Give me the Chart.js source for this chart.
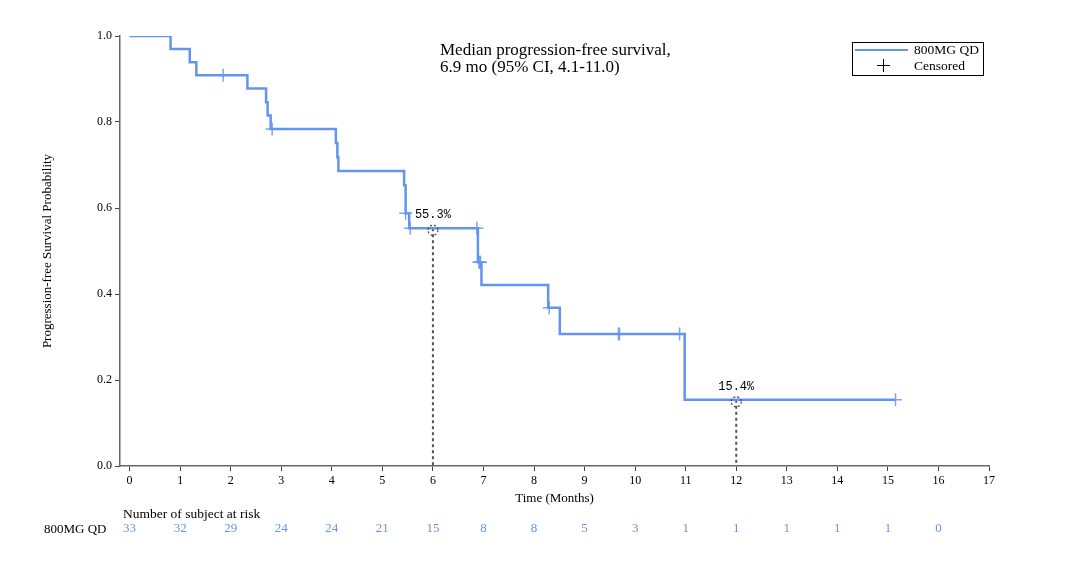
<!DOCTYPE html>
<html>
<head>
<meta charset="utf-8">
<script src="https://cdn.jsdelivr.net/npm/chart.js@4.4.0/dist/chart.umd.min.js"></script>
<style>
  body { margin:0; background:#fff; font-family:"Liberation Serif", serif; }
  #wrap { position:relative; width:1066px; height:564px; }
  #km { position:absolute; left:0; top:0; }
  .note { position:absolute; left:440px; top:41px; font-size:17px; line-height:17px; color:#000; white-space:nowrap; }
  .legend { position:absolute; left:852px; top:42px; width:132px; height:34px; border:1px solid #000; box-sizing:border-box; font-size:13.5px; white-space:nowrap; }
  .legend .swatch { position:absolute; left:2px; top:5.5px; width:53px; height:2.5px; background:#6495ed; }
  .legend .t1 { position:absolute; left:61px; top:-1px; line-height:15px; }
  .legend .t2 { position:absolute; left:61px; top:15px; line-height:15px; }
  .legend .ch { position:absolute; left:24px; top:22px; width:13px; height:1px; background:#000; }
  .legend .cv { position:absolute; left:30px; top:16px; width:1px; height:13px; background:#000; }
  .risk-title { position:absolute; left:123px; top:506px; font-size:13.5px; line-height:16px; }
  .risk-name { position:absolute; left:44px; top:521px; font-size:13px; line-height:16px; }
</style>
</head>
<body>
<div id="wrap">
  <canvas id="km" width="1066" height="564"></canvas>
  <div class="note">Median progression-free survival,<br>6.9 mo (95% CI, 4.1-11.0)</div>
  <div class="legend">
    <div class="swatch"></div><div class="t1">800MG QD</div>
    <div class="ch"></div><div class="cv"></div><div class="t2">Censored</div>
  </div>
  <div class="risk-title">Number of subject at risk</div>
  <div class="risk-name">800MG QD</div>
</div>
<script>
/* ---------- data ---------- */
const stepTimes = [0, 0.81, 1.19, 1.32, 2.33, 2.70, 2.73, 2.79, 4.08, 4.11, 4.13, 5.43, 5.46, 5.53, 6.89, 6.96, 8.28, 8.51, 10.98, 15.15];
const stepSurv  = [1.0, 0.970, 0.939, 0.909, 0.878, 0.846, 0.815, 0.784, 0.751, 0.718, 0.686, 0.653, 0.588, 0.553, 0.474, 0.421, 0.368, 0.307, 0.154, 0.154];

const censorTimes = [1.85, 2.82, 5.46, 5.55, 6.87, 6.91, 6.93, 6.94, 8.30, 9.67, 9.69, 10.88, 15.15];
const censorSurv  = [0.909, 0.784, 0.588, 0.553, 0.553, 0.474, 0.474, 0.474, 0.368, 0.307, 0.307, 0.307, 0.154];

const medianTimes  = [6, 12];
const medianSurv   = [0.553, 0.154];
const medianLabels = ["55.3%", "15.4%"];

const riskTimes  = [0,1,2,3,4,5,6,7,8,9,10,11,12,13,14,15,16];
const riskCounts = [33,32,29,24,24,21,15,8,8,5,3,1,1,1,1,1,0];

const xTicks = [0,1,2,3,4,5,6,7,8,9,10,11,12,13,14,15,16,17];

const blue = "#6495ed";

/* ---------- datasets ---------- */
const kmData = stepTimes.map((t, i) => ({ x: t, y: stepSurv[i] }));
const censorData = censorTimes.map((t, i) => ({ x: t, y: censorSurv[i] }));
const medianSets = medianTimes.map((t, i) => ({
  type: 'line',
  data: [{ x: t, y: medianSurv[i] }, { x: t, y: 0 }],
  borderColor: "#555",
  borderWidth: 2,
  borderDash: [3, 3],
  pointRadius: 0,
  order: 3
}));

/* ---------- extra drawing: median labels + risk table ---------- */
const extras = {
  id: 'extras',
  afterDatasetsDraw(chart) {
    const c = chart.ctx, xs = chart.scales.x, ys = chart.scales.y;
    c.save();
    medianTimes.forEach((t, i) => {
      const px = xs.getPixelForValue(t), py = ys.getPixelForValue(medianSurv[i]);
      c.strokeStyle = "#444";
      c.lineWidth = 1.2;
      c.setLineDash([2, 2]);
      c.beginPath();
      c.arc(px, py + 2, 5, 0, 2 * Math.PI);
      c.stroke();
      c.setLineDash([]);
      c.fillStyle = "#000";
      c.font = "12px 'Liberation Mono', monospace";
      c.textAlign = "center";
      c.textBaseline = "middle";
      c.fillText(medianLabels[i], px, py - 13);
    });
    c.fillStyle = blue;
    c.font = "13px 'Liberation Serif', serif";
    c.textAlign = "center";
    c.textBaseline = "middle";
    riskTimes.forEach((t, i) => {
      c.fillText(String(riskCounts[i]), xs.getPixelForValue(t), 529);
    });
    c.restore();
  }
};

const ctx = document.getElementById('km').getContext('2d');
const km = new Chart(ctx, {
  type: 'line',
  data: {
    datasets: [
      { data: kmData, stepped: true, borderColor: blue, borderWidth: 2.5, pointRadius: 0, order: 1 },
      { type: 'scatter', data: censorData, pointStyle: 'cross', pointRadius: 6.5, pointHoverRadius: 6.5,
        borderColor: "rgba(100,149,237,0.85)", pointBorderWidth: 1.5, showLine: false, order: 0 },
      ...medianSets
    ]
  },
  options: {
    responsive: false,
    animation: false,
    events: [],
    layout: { padding: { left: 0, right: 77, top: 36, bottom: 0 } },
    plugins: { legend: { display: false }, tooltip: { enabled: false } },
    scales: {
      x: {
        type: 'linear', min: -0.19, max: 17,
        afterBuildTicks: s => { s.ticks = xTicks.map(v => ({ value: v })); },
        afterFit: s => { s.height = 98; },
        ticks: { color: "#000", padding: 3, font: { family: "Liberation Serif", size: 12 }, callback: v => v },
        grid: { drawOnChartArea: false, tickLength: 5, tickColor: "#444", tickWidth: 1 },
        border: { color: "#666", width: 1.5 },
        title: { display: true, text: "Time (Months)", color: "#000", font: { family: "Liberation Serif", size: 13 }, padding: { top: 0, bottom: 58 } }
      },
      y: {
        min: 0, max: 1,
        afterFit: s => { s.width = 120; },
        ticks: { stepSize: 0.2, color: "#000", padding: 3, font: { family: "Liberation Serif", size: 12 }, callback: v => v.toFixed(1) },
        grid: { drawOnChartArea: false, tickLength: 5, tickColor: "#444", tickWidth: 1 },
        border: { color: "#666", width: 1.5 },
        title: { display: true, text: "Progression-free Survival Probability", color: "#000", font: { family: "Liberation Serif", size: 13 }, padding: { top: 40, bottom: 0 } }
      }
    }
  },
  plugins: [extras]
});
</script>
</body>
</html>
